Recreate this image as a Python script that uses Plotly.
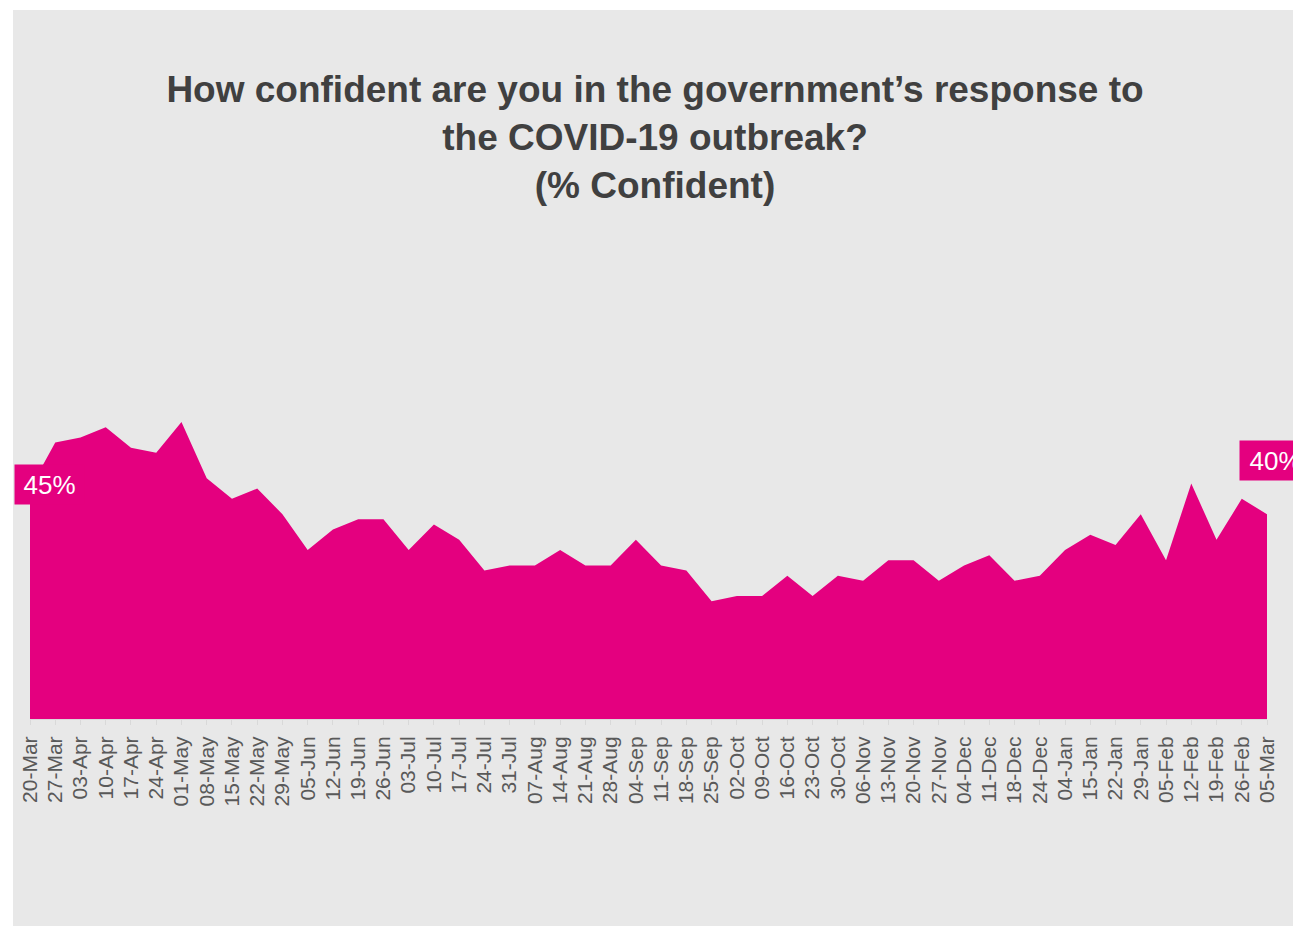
import plotly.graph_objects as go

# ---- data ----
weeks = ["20-Mar", "27-Mar", "03-Apr", "10-Apr", "17-Apr", "24-Apr", "01-May", "08-May",
         "15-May", "22-May", "29-May", "05-Jun", "12-Jun", "19-Jun", "26-Jun", "03-Jul",
         "10-Jul", "17-Jul", "24-Jul", "31-Jul", "07-Aug", "14-Aug", "21-Aug", "28-Aug",
         "04-Sep", "11-Sep", "18-Sep", "25-Sep", "02-Oct", "09-Oct", "16-Oct", "23-Oct",
         "30-Oct", "06-Nov", "13-Nov", "20-Nov", "27-Nov", "04-Dec", "11-Dec", "18-Dec",
         "24-Dec", "04-Jan", "15-Jan", "22-Jan", "29-Jan", "05-Feb", "12-Feb", "19-Feb",
         "26-Feb", "05-Mar"]
confident = [45, 54, 55, 57, 53, 52, 58, 47,
             43, 45, 40, 33, 37, 39, 39, 33,
             38, 35, 29, 30, 30, 33, 30, 30,
             35, 30, 29, 23, 24, 24, 28, 24,
             28, 27, 31, 31, 27, 30, 32, 27,
             28, 33, 36, 34, 40, 31, 46, 35,
             43, 40]
first_label = "45%"
last_label = "40%"

PINK = "#e4007f"
BG = "#e8e8e8"
FONT = "Liberation Sans, Arial, sans-serif"

W, H = 1293, 926
ML, MR, MT, MB = 30, 26, 207, 207
pw = W - ML - MR
ph = H - MT - MB

fig = go.Figure()
fig.add_trace(go.Scatter(
    x=weeks, y=confident, mode="none", fill="tozeroy",
    fillcolor=PINK, hoverinfo="skip", showlegend=False,
))

# gray chart panel (page has white edge at left/top)
fig.add_shape(type="rect", xref="paper", yref="paper", layer="below",
              x0=(13 - ML) / pw, x1=(W + 5 - ML) / pw,
              y0=(H - MB - (H + 5)) / ph, y1=(H - MB - 10) / ph,
              fillcolor=BG, line=dict(width=0))

fig.add_annotation(x=weeks[0], y=confident[0], xref="x", yref="y",
                   text=first_label, showarrow=False,
                   xanchor="left", yanchor="middle", xshift=-16.5, yshift=4,
                   width=63, height=33, borderpad=3, align="center",
                   bgcolor=PINK, font=dict(family=FONT, size=26, color="white"))
fig.add_annotation(x=weeks[-1], y=confident[-1], xref="x", yref="y",
                   text=last_label, showarrow=False,
                   xanchor="left", yanchor="middle", xshift=-28.5, yshift=54,
                   width=65, height=33, borderpad=3, align="center",
                   bgcolor=PINK, font=dict(family=FONT, size=26, color="white"))

fig.update_layout(
    width=W, height=H,
    margin=dict(l=ML, r=MR, t=MT, b=MB, pad=0),
    paper_bgcolor="white", plot_bgcolor=BG,
    title=dict(
        text="<b>How confident are you in the government’s response to<br>the COVID-19 outbreak?<br>(% Confident)</b>",
        x=655 / W, xanchor="center", xref="container",
        y=1 - 102 / H, yanchor="middle", yref="container",
        font=dict(family=FONT, size=37, color="#404040"),
    ),
    showlegend=False,
    hovermode=False,
    font=dict(family=FONT),
)
fig.update_xaxes(
    type="category", range=[0, len(weeks) - 1],
    tickangle=-90, tickfont=dict(family=FONT, size=21, color="#595959"),
    ticks="outside", ticklen=5, tickcolor="#d9d9d9", tickwidth=1,
    showline=True, linecolor="#d9d9d9", linewidth=1,
    showgrid=False, zeroline=False, ticklabelstandoff=3,
)
fig.update_yaxes(range=[0, 100], visible=False, showgrid=False, zeroline=False)

fig.write_html("out.html")
